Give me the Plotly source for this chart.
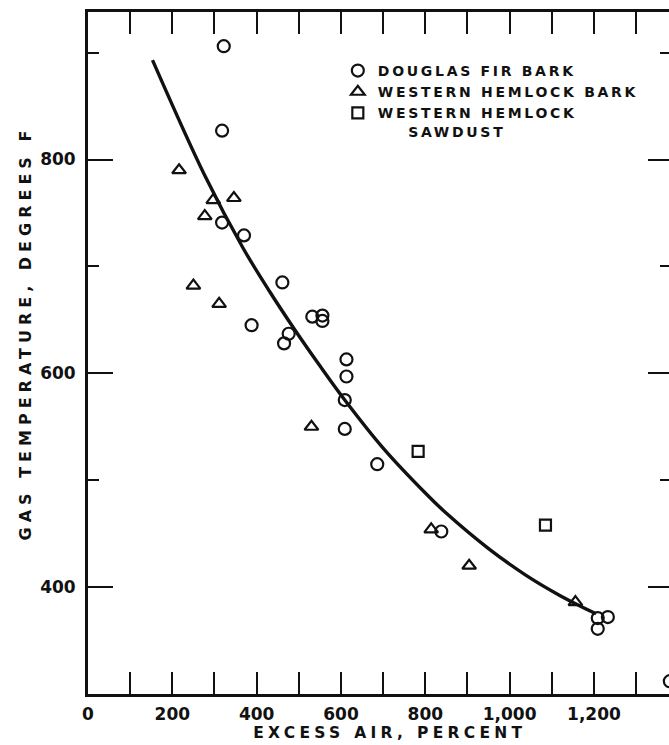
import plotly.graph_objects as go

# Douglas fir bark (open circles): excess air %, gas temperature °F
fir_air = [322, 318, 318, 370, 461, 388, 476, 465, 532, 556, 556, 613, 613,
           609, 609, 686, 838, 1209, 1233, 1209, 1380]
fir_temp = [906, 827, 741, 729, 685, 645, 637, 628, 653, 654, 649, 613, 597,
            575, 548, 515, 452, 371, 372, 361, 312]

# Western hemlock bark (open triangles)
hem_air = [216, 297, 346, 277, 250, 311, 530, 814, 904, 1156]
hem_temp = [790, 762, 764, 747, 682, 665, 550, 454, 420, 386]

# Western hemlock sawdust (open squares)
saw_air = [783, 1085]
saw_temp = [527, 458]

# Trend curve drawn through the data
curve_air = [153, 277, 368, 430, 490, 550, 609, 700, 800, 850, 950, 1039, 1120, 1205]
curve_temp = [893, 785, 717, 677, 641, 607, 575, 530, 488, 469, 436, 411, 392, 375]

# Axis extents and tick steps
x_range = [0, 1378]
y_range = [300, 938]
x_major, x_minor = 200, 100
y_major, y_minor = 200, 100

INK = "#111111"
FONT = "DejaVu Sans"

fig = go.Figure()

fig.add_trace(go.Scatter(
    x=curve_air, y=curve_temp, mode="lines",
    line=dict(color=INK, width=3.4, shape="spline", smoothing=1.0),
    showlegend=False, hoverinfo="skip",
))

marker_line = dict(color=INK, width=2.2)
fig.add_trace(go.Scatter(
    x=fir_air, y=fir_temp, mode="markers", name="DOUGLAS FIR BARK",
    marker=dict(symbol="circle-open", size=12, color=INK, line=marker_line),
))
fig.add_trace(go.Scatter(
    x=hem_air, y=hem_temp, mode="markers", name="WESTERN HEMLOCK BARK",
    marker=dict(symbol="triangle-up-open", size=12, color=INK, line=marker_line),
))
fig.add_trace(go.Scatter(
    x=saw_air, y=saw_temp, mode="markers",
    name="WESTERN HEMLOCK<br>\u00a0\u00a0\u00a0\u00a0SAWDUST",
    marker=dict(symbol="square-open", size=11, color=INK, line=marker_line),
))
# invisible trace that carries the right-hand tick axis
fig.add_trace(go.Scatter(
    x=[x_range[0]], y=[y_range[0]], yaxis="y2", mode="markers",
    marker=dict(opacity=0), showlegend=False, hoverinfo="skip",
))

tick_font = dict(family=FONT, size=17, color=INK, weight="bold")

fig.update_layout(
    width=669, height=745,
    margin=dict(l=88, r=0, t=12, b=51),
    paper_bgcolor="white", plot_bgcolor="white",
    font=dict(family=FONT, color=INK),
    showlegend=True,
    legend=dict(
        x=0.43, y=0.937, xanchor="left", yanchor="top",
        bgcolor="rgba(0,0,0,0)", borderwidth=0, valign="top",
        font=dict(family=FONT, size=14, color=INK, weight="bold"),
        itemwidth=30, tracegroupgap=0,
    ),
    xaxis=dict(
        range=x_range, tick0=0, dtick=x_major, tickformat=",d",
        showgrid=False, zeroline=False,
        showline=True, linecolor=INK, linewidth=2.8, mirror="allticks",
        ticks="inside", ticklen=22, tickwidth=2.4, tickcolor=INK,
        minor=dict(dtick=x_minor, tick0=0, ticks="inside", ticklen=13,
                   tickwidth=2.2, tickcolor=INK, showgrid=False),
        tickfont=tick_font, ticklabelstandoff=3,
    ),
    yaxis=dict(
        range=y_range, tick0=0, dtick=y_major, tickformat="d",
        showgrid=False, zeroline=False,
        showline=True, linecolor=INK, linewidth=2.8,
        ticks="inside", ticklen=25, tickwidth=2.4, tickcolor=INK,
        minor=dict(dtick=y_minor, tick0=0, ticks="inside", ticklen=11,
                   tickwidth=2.2, tickcolor=INK, showgrid=False),
        tickfont=tick_font, ticklabelstandoff=6,
    ),
    yaxis2=dict(
        overlaying="y", side="right", anchor="x", matches="y",
        range=y_range, tick0=0, dtick=y_major,
        showgrid=False, zeroline=False, showline=False,
        showticklabels=False,
        ticks="inside", ticklen=21, tickwidth=2.4, tickcolor=INK,
        minor=dict(dtick=y_minor, tick0=0, ticks="inside", ticklen=9,
                   tickwidth=2.2, tickcolor=INK, showgrid=False),
    ),
    annotations=[
        dict(text="EXCESS AIR, PERCENT", xref="paper", yref="paper",
             x=0.52, y=-0.057, xanchor="center", yanchor="middle",
             showarrow=False,
             font=dict(family=FONT, size=15.5, color=INK, weight="bold")),
        dict(text="GAS TEMPERATURE, DEGREES F", xref="paper", yref="paper",
             x=-0.108, y=0.529, xanchor="center", yanchor="middle",
             textangle=-90, showarrow=False,
             font=dict(family=FONT, size=16, color=INK, weight="bold")),
    ],
)

# Lettering is widely spaced: apply CSS letter-spacing to the drawn texts,
# and let the spaced legend labels run past the legend's clip box.
post = """
(function(){
  var gd = document.getElementById('{plot_id}');
  function space(){
    gd.querySelectorAll('.legend [clip-path]').forEach(function(e){
      e.removeAttribute('clip-path');
    });
    gd.querySelectorAll('.legendtext').forEach(function(t){
      t.style.letterSpacing = '2.7px';
    });
    gd.querySelectorAll('.annotation-text').forEach(function(t){
      var s = t.textContent;
      if (s.indexOf('EXCESS') === 0) t.style.letterSpacing = '4.3px';
      if (s.indexOf('GAS') === 0) t.style.letterSpacing = '5px';
    });
  }
  space();
  if (gd.on) gd.on('plotly_afterplot', space);
  setTimeout(space, 0);
  setTimeout(space, 200);
})();
"""

fig.write_html("out.html", post_script=post)
